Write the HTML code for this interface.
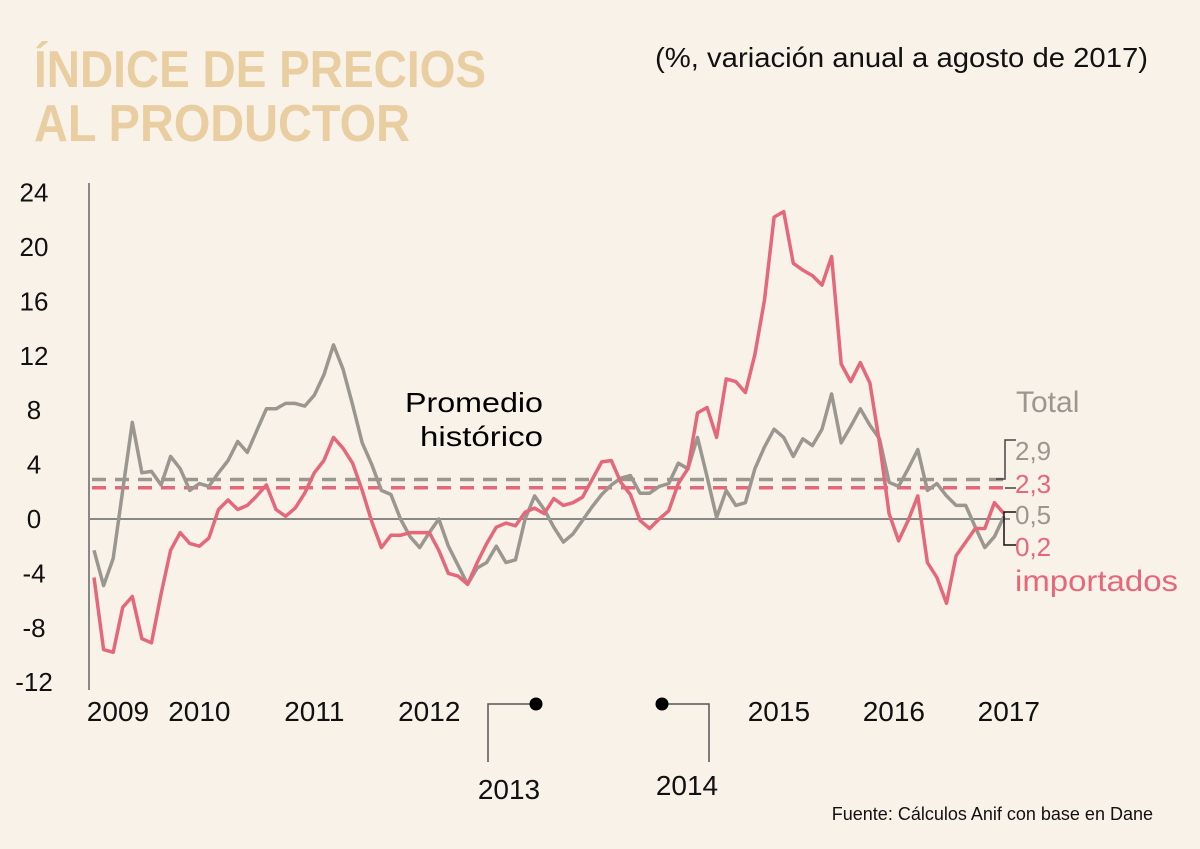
<!DOCTYPE html>
<html><head><meta charset="utf-8">
<style>
html,body{margin:0;padding:0;background:#f8f2e8;}
svg{display:block;font-family:"Liberation Sans",sans-serif;}
</style></head>
<body>
<svg width="1200" height="849" viewBox="0 0 1200 849" xmlns="http://www.w3.org/2000/svg">
<rect width="1200" height="849" fill="#f8f2e8"/>
<text x="34" y="87" font-size="52" font-weight="bold" fill="#e9cea1" textLength="452" lengthAdjust="spacingAndGlyphs">ÍNDICE DE PRECIOS</text>
<text x="34" y="141" font-size="52" font-weight="bold" fill="#e9cea1" textLength="376" lengthAdjust="spacingAndGlyphs">AL PRODUCTOR</text>
<text x="655" y="67" font-size="28" fill="#111" textLength="493" lengthAdjust="spacingAndGlyphs">(%, variación anual a agosto de 2017)</text>
<g id="yaxis"></g>
<line x1="89" y1="183" x2="89" y2="690" stroke="#888" stroke-width="2"/>
<line x1="89" y1="519" x2="1010" y2="519" stroke="#888" stroke-width="2"/>
<g id="xlabels"></g>
<g id="avg"></g>
<g id="series"></g>
<text x="405" y="412" font-size="28" fill="#000" textLength="138" lengthAdjust="spacingAndGlyphs">Promedio</text>
<text x="420" y="446" font-size="28" fill="#000" textLength="123" lengthAdjust="spacingAndGlyphs">histórico</text>
<text x="1016" y="412" font-size="30" fill="#9a9790">Total</text>
<text x="1015" y="460" font-size="26" fill="#9a9790">2,9</text>
<text x="1015" y="493" font-size="26" fill="#e5687a">2,3</text>
<text x="1015" y="524" font-size="26" fill="#9a9790">0,5</text>
<text x="1015" y="556" font-size="26" fill="#e5687a">0,2</text>
<text x="1015" y="591" font-size="30" fill="#e5687a" textLength="163" lengthAdjust="spacingAndGlyphs">importados</text>
<path d="M1016,440 H1005 V479 H996" fill="none" stroke="#444" stroke-width="1.5"/>
<path d="M1005,488 H1016" fill="none" stroke="#444" stroke-width="1.5"/>
<path d="M1016,512 H1004 V545 H1016" fill="none" stroke="#111" stroke-width="1.5"/>
<path d="M536,704 H488 V762" fill="none" stroke="#555" stroke-width="1.5"/>
<circle cx="536" cy="704" r="6.5" fill="#000"/>
<text x="509" y="799" font-size="28" fill="#111" text-anchor="middle">2013</text>
<path d="M662,704 H709 V762" fill="none" stroke="#555" stroke-width="1.5"/>
<circle cx="662" cy="704" r="6.5" fill="#000"/>
<text x="687" y="795" font-size="28" fill="#111" text-anchor="middle">2014</text>
<text x="1153" y="820" font-size="18" fill="#111" text-anchor="end">Fuente: Cálculos Anif con base en Dane</text>
</svg>
<script>
const yTicks = [24,20,16,12,8,4,0,-4,-8,-12];
const yearLabels = ["2009","2010","2011","2012","2015","2016","2017"];
const yearLabelIdx = [2.5,11,23,35,71.5,83.5,95.5];
const totalSeries = [-2.3,-4.9,-2.9,2.1,7.1,3.4,3.5,2.5,4.6,3.7,2.1,2.6,2.4,3.4,4.3,5.7,4.9,6.5,8.1,8.1,8.5,8.5,8.3,9.1,10.6,12.8,11.0,8.4,5.6,4.0,2.1,1.8,0,-1.3,-2.1,-1.0,0,-2.0,-3.4,-4.8,-3.6,-3.2,-2.0,-3.2,-3.0,0,1.7,0.7,-0.6,-1.7,-1.1,-0.1,0.9,1.8,2.5,3.0,3.2,1.9,1.9,2.4,2.6,4.1,3.7,6.0,3.1,0.1,2.1,1.0,1.2,3.7,5.3,6.6,6.0,4.6,5.9,5.4,6.6,9.2,5.6,6.8,8.1,6.9,5.9,2.7,2.4,3.7,5.1,2.1,2.6,1.7,1.0,1.0,-0.6,-2.1,-1.3,0.2];
const importedSeries = [-4.3,-9.6,-9.8,-6.5,-5.7,-8.8,-9.1,-5.5,-2.3,-1.0,-1.8,-2.0,-1.4,0.7,1.4,0.7,1.0,1.7,2.5,0.7,0.2,0.8,1.9,3.4,4.3,6.0,5.2,4.1,2.1,-0.2,-2.1,-1.2,-1.2,-1.0,-1.0,-1.0,-2.3,-4.0,-4.2,-4.8,-3.2,-1.8,-0.6,-0.3,-0.5,0.5,0.8,0.4,1.5,1.0,1.2,1.6,2.9,4.2,4.3,2.7,1.8,-0.1,-0.7,0,0.6,2.6,3.7,7.8,8.2,6.0,10.3,10.1,9.3,12.1,16.1,22.2,22.6,18.8,18.3,17.9,17.2,19.3,11.4,10.1,11.5,10.0,5.6,0.4,-1.6,-0.1,1.7,-3.2,-4.3,-6.2,-2.7,-1.7,-0.7,-0.7,1.2,0.4];
const averages = [2.9, 2.3];

const NS = "http://www.w3.org/2000/svg";
const yScale = v => 519 - v * 13.6;
const xScale = i => 94 + i * (1004 - 94) / (totalSeries.length - 1);
function mk(tag, attrs, parent){const e=document.createElementNS(NS,tag);for(const k in attrs)e.setAttribute(k,attrs[k]);parent.appendChild(e);return e;}

const ya = document.getElementById('yaxis');
yTicks.forEach(t=>{
  const e = mk('text',{x:34,y:yScale(t)+9,'font-size':26,fill:'#111','text-anchor':'middle'},ya);
  
  
  e.textContent = t;
});
const xl = document.getElementById('xlabels');
yearLabels.forEach((l,k)=>{
  const e = mk('text',{x:xScale(yearLabelIdx[k]),y:721,'font-size':28,fill:'#111','text-anchor':'middle'},xl);
  
  
  e.textContent = l;
});
const av = document.getElementById('avg');
const avgColors = ['#9a9790','#e5687a'];
averages.forEach((a,k)=>{
  const e = mk('line',{x1:92,x2:1004,y1:yScale(a),y2:yScale(a),stroke:avgColors[k],'stroke-width':3.5,'stroke-dasharray':'14 9'},av);
  
  
});
const sg = document.getElementById('series');
function line(data,color,name){
  const d = data.map((v,i)=>(i?'L':'M')+xScale(i).toFixed(1)+','+yScale(v).toFixed(1)).join(' ');
  const e = mk('path',{d:d,fill:'none',stroke:color,'stroke-width':3.5,'stroke-linejoin':'round'},sg);
  
  
}
line(totalSeries,'#9a9790','total-line');
line(importedSeries,'#e5687a','imported-line');
</script>
</body></html>
